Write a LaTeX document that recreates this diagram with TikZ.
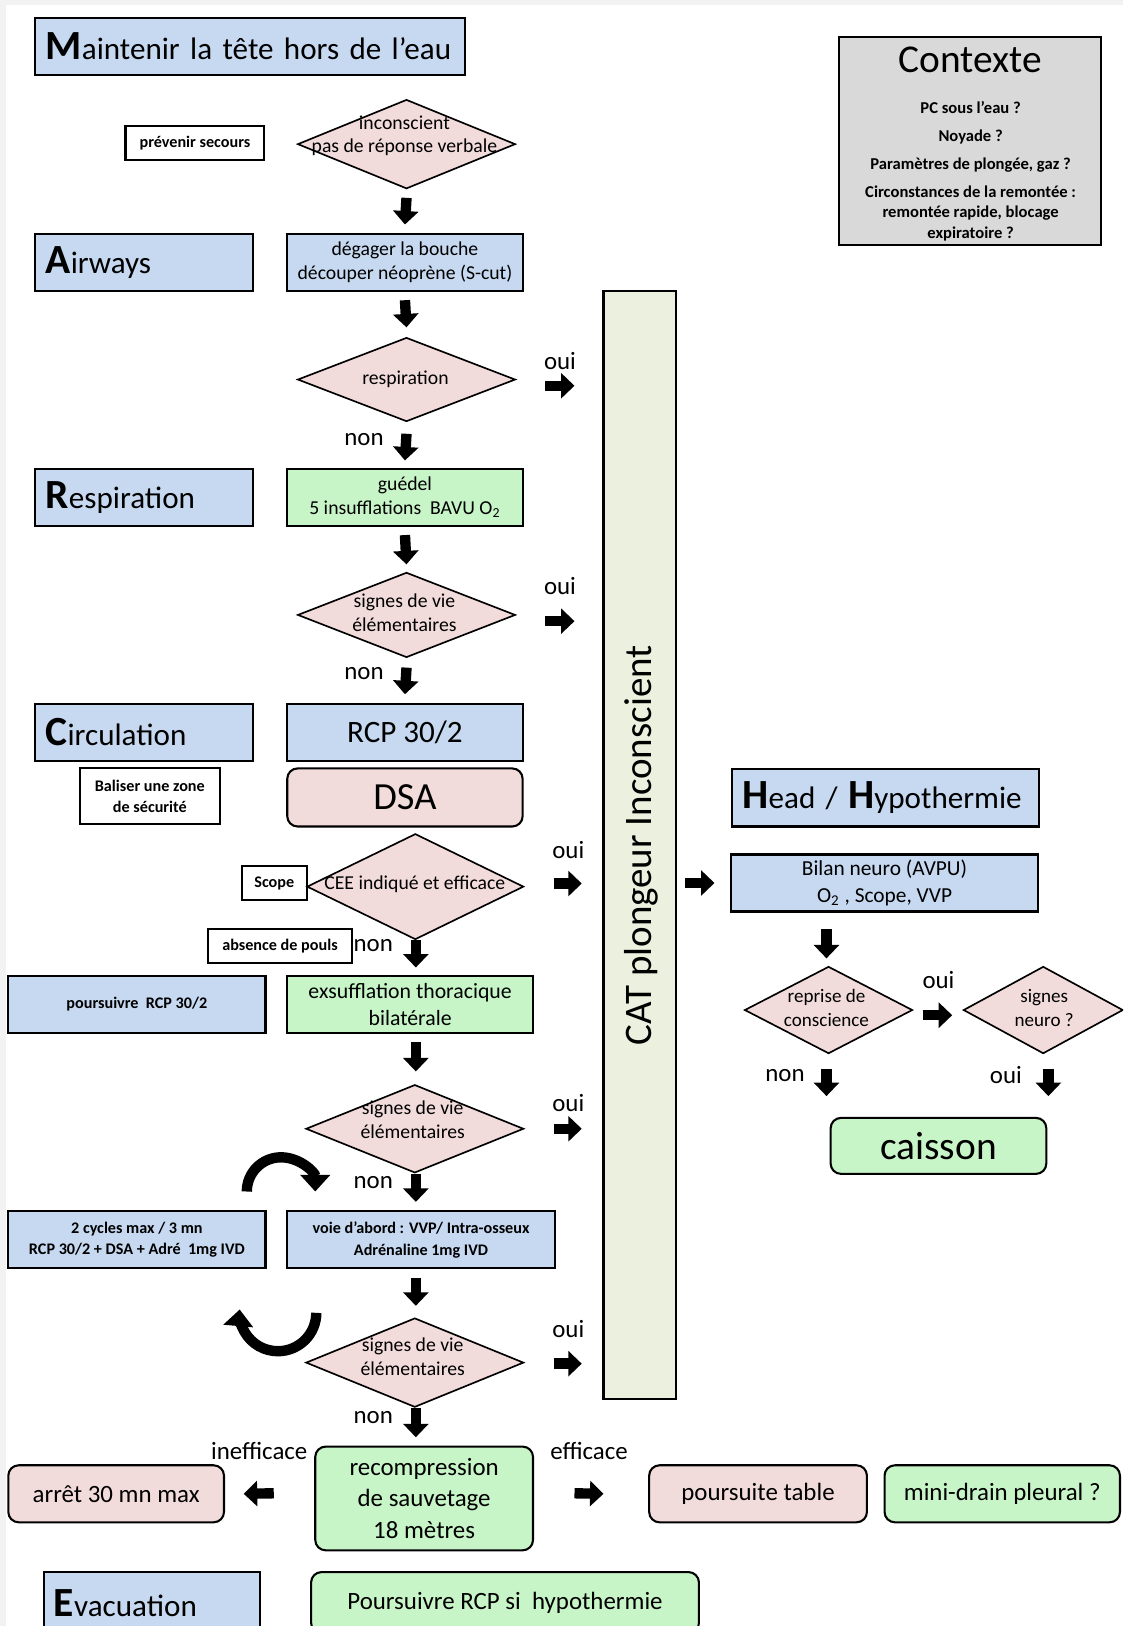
\documentclass[tikz,border=0pt]{standalone}
\usepackage{fontspec}
\setmainfont{Carlito}
\usetikzlibrary{arrows.meta,positioning,shapes.geometric,calc}

\definecolor{bleu}{HTML}{C6D9F1}
\definecolor{rose}{HTML}{F2DCDB}
\definecolor{vert}{HTML}{C8F5C8}
\definecolor{catvert}{HTML}{EBF1DE}
\definecolor{gris}{HTML}{D9D9D9}

\newcommand\initiale[1]{{\fontsize{20}{20}\selectfont\bfseries #1}}

\begin{document}
\begin{tikzpicture}[
x=0.5pt,y=-0.5pt,
box/.style={draw,line width=1pt,inner sep=2pt,align=center,minimum height=27.5pt},
hdr/.style={box,fill=bleu,anchor=west,align=left,inner xsep=5pt,text width=#1,font=\fontsize{15}{16}\selectfont},
bleubox/.style={box,fill=bleu,font=\fontsize{9.5}{11.5}\selectfont},
vertbox/.style={box,fill=vert,font=\fontsize{9.5}{11.5}\selectfont},
ronde/.style={box,rounded corners=5pt,font=\fontsize{12}{15}\selectfont},
petit/.style={box,fill=white,inner sep=1pt,minimum height=16.5pt,font=\fontsize{7.8}{10}\selectfont\bfseries},
losange/.style={diamond,draw,line width=0.8pt,fill=rose,inner sep=0pt},
ltxt/.style={align=center,inner sep=0pt,font=\fontsize{9.5}{11.5}\selectfont},
lab/.style={inner sep=0pt,font=\fontsize{12}{12}\selectfont},
fleche/.style={-{Triangle[length=6.5pt,width=12pt]},line width=5pt},
boucle/.style={-{Triangle[length=8pt,width=14pt]},line width=5pt}
]
\useasboundingbox (0,0) rectangle (1083,1568);
\clip (0,0) rectangle (1083,1568);
\fill[gray!10] (0,0) rectangle (1083,1568);
\fill[white] (6,5) rectangle (1083,1568);

% en-tetes
\node[hdr=197pt] (tete) at (33,44.5) {\initiale{M}aintenir la tête hors de l’eau};
\node[hdr=95pt] (airways) at (33,253) {\initiale{A}irways};
\node[hdr=95pt] (resphd) at (33,479.5) {\initiale{R}espiration};
\node[hdr=95pt] (circ) at (33,706) {\initiale{C}irculation};
\node[hdr=138pt] (head) at (705,769.5) {\initiale{H}ead / \initiale{H}ypothermie};
\node[hdr=94.5pt,minimum height=29.5pt] (evac) at (41,1545.5) {\initiale{E}vacuation};

% colonne centrale
\node[bleubox,minimum width=113.5pt] (degager) at (390.5,253) {dégager la bouche\\découper néoprène (S-cut)};
\node[vertbox,minimum width=113.5pt] (guedel) at (390.5,479.5) {guédel\\5 insufflations~~BAVU O\textsubscript{2}};
\node[bleubox,minimum width=113.5pt,font=\fontsize{15}{15}\selectfont] (rcp) at (390.5,706) {RCP 30/2};
\node[box,fill=rose,rounded corners=5pt,minimum width=113.5pt,minimum height=28pt,font=\fontsize{18.5}{18.5}\selectfont] (dsa) at (390.5,769) {DSA};
\node[vertbox,minimum width=118.5pt,font=\fontsize{10.5}{13}\selectfont] (exsuff) at (395.5,968.5) {exsufflation thoracique\\bilatérale};
\node[bleubox,minimum width=129pt,font=\fontsize{7.8}{10.5}\selectfont\bfseries] (voie) at (406,1195.5) {voie d’abord : VVP/ Intra-osseux\\Adrénaline 1mg IVD};
\node[ronde,fill=vert,minimum width=105pt,minimum height=50pt] (recomp) at (409,1445) {recompression\\de sauvetage\\18 mètres};
\node[ronde,fill=vert,minimum width=187pt,minimum height=29.5pt] (hypo) at (487,1545.5) {Poursuivre RCP si~~hypothermie};

% gauche
\node[petit,minimum width=67pt] (prevenir) at (188,138) {prévenir secours};
\node[petit,minimum width=67.5pt,minimum height=27pt] (baliser) at (144.5,768) {Baliser une zone\\de sécurité};
\node[petit,minimum width=31.5pt] (scope) at (264.5,851.5) {Scope};
\node[petit,minimum width=69pt] (pouls) at (270,912.5) {absence de pouls};
\node[bleubox,minimum width=124pt,font=\fontsize{7.8}{10}\selectfont\bfseries] (poursuivre) at (132,968.5) {poursuivre~~RCP 30/2};
\node[bleubox,minimum width=124pt,font=\fontsize{7.8}{10.5}\selectfont\bfseries] (cycles) at (132,1195.5) {2 cycles max / 3 mn\\RCP 30/2 + DSA + Adré~~1mg IVD};
\node[ronde,fill=rose,minimum width=104pt] (arret) at (112,1440.5) {arrêt 30 mn max};
\node[ronde,fill=rose,minimum width=105pt] (table) at (731,1440.5) {poursuite table};
\node[ronde,fill=vert,minimum width=113.5pt] (drain) at (966.5,1440.5) {mini-drain pleural ?};

% droite
\node[box,fill=gris,minimum width=126.5pt,minimum height=100pt] (contexte) at (935.5,136) {};
\node[inner sep=0pt,font=\fontsize{19}{19}\selectfont] (ctxtitre) at (936,58) {Contexte};
\node[anchor=north,inner sep=0pt,align=center,font=\fontsize{8}{10}\selectfont\bfseries] (ctxliste) at (936,97) {PC sous l’eau ?\\[3.5pt]Noyade ?\\[3.5pt]Paramètres de plongée, gaz ?\\[3.5pt]Circonstances de la remontée :\\remontée rapide, blocage\\expiratoire ?};
\node[box,fill=catvert,minimum width=35pt,minimum height=534pt] (cat) at (617,815) {};
\node[rotate=90,inner sep=0pt,font=\fontsize{18.8}{19}\selectfont] (cattxt) at (618,815) {CAT plongeur Inconscient};
\node[bleubox,minimum width=148pt,font=\fontsize{10.3}{13}\selectfont] (bilan) at (853,851.5) {Bilan neuro (AVPU)\\O\textsubscript{2} , Scope, VVP};
\node[ronde,fill=vert,minimum width=104pt,minimum height=27pt,font=\fontsize{19}{19}\selectfont] (caisson) at (905,1105) {caisson};

% losanges
\node[losange,minimum width=105pt,minimum height=43pt] (incons) at (392,139) {};
\node[losange,minimum width=105pt,minimum height=40.5pt] (respi) at (392,366) {};
\node[losange,minimum width=105pt,minimum height=41pt] (signes1) at (392,593) {};
\node[losange,minimum width=104.5pt,minimum height=51pt] (cee) at (400.5,855) {};
\node[losange,minimum width=105pt,minimum height=42.5pt] (signes2) at (400,1088.5) {};
\node[losange,minimum width=105pt,minimum height=43pt] (signes3) at (400,1314) {};
\node[losange,minimum width=81pt,minimum height=42pt] (reprise) at (799,974) {};
\node[losange,minimum width=77pt,minimum height=42pt] (neuro) at (1006,974) {};

\node[ltxt] (inconstxt) at (390,131) {inconscient\\pas de réponse verbale};
\node[ltxt] (respitxt) at (391,366) {respiration};
\node[ltxt] (signes1txt) at (390,591) {signes de vie\\élémentaires};
\node[ltxt] (ceetxt) at (400,853) {CEE indiqué et efficace};
\node[ltxt] (signes2txt) at (398,1080) {signes de vie\\élémentaires};
\node[ltxt] (signes3txt) at (398,1308) {signes de vie\\élémentaires};
\node[ltxt,font=\fontsize{9.2}{11.5}\selectfont] (reprisetxt) at (797,972) {reprise de\\conscience};
\node[ltxt,font=\fontsize{9.2}{11.5}\selectfont] (neurotxt) at (1007,972) {signes\\neuro ?};

% oui / non
\node[lab] (oui1) at (540,348) {oui};
\node[lab] (oui2) at (540,565) {oui};
\node[lab] (oui3) at (548,820) {oui};
\node[lab] (oui4) at (548,1064) {oui};
\node[lab] (oui5) at (548,1282) {oui};
\node[lab] (oui6) at (905,945) {oui};
\node[lab] (oui7) at (970,1037) {oui};
\node[lab] (non1) at (351,424) {non};
\node[lab] (non2) at (351,650) {non};
\node[lab] (non3) at (360,912) {non};
\node[lab] (non4) at (360,1140) {non};
\node[lab] (non5) at (360,1367) {non};
\node[lab] (non6) at (757,1037) {non};
\node[lab] (ineff) at (250,1399) {inefficace};
\node[lab] (eff) at (568,1399) {efficace};

% fleches verticales
\draw[fleche] ($(incons.south)+(0,8)$) -- ($(degager.north)+(0,-8)$);
\draw[fleche] ($(degager.south)+(0,8)$) -- ($(respi.north)+(0,-9)$);
\draw[fleche] ($(respi.south)+(0,11)$) -- ($(guedel.north)+(0,-7)$);
\draw[fleche] ($(guedel.south)+(0,8)$) -- ($(signes1.north)+(0,-7)$);
\draw[fleche] ($(signes1.south)+(0,9)$) -- ($(rcp.north)+(0,-8)$);
\draw[fleche] ($(cee.south)+(0.5,0)$) -- ($(exsuff.north)+(5.5,-7)$);
\draw[fleche] ($(exsuff.south)+(5.5,8)$) -- ($(signes2.north)+(1,-12)$);
\draw[fleche] ($(signes2.south)+(1,0)$) -- ($(voie.north)+(-5,-8)$);
\draw[fleche] ($(voie.south)+(-5,8)$) -- ($(signes3.north)+(1,-11)$);
\draw[fleche] ($(signes3.south)+(1,0)$) -- ($(recomp.north)+(-8,-8)$);
\draw[fleche] ($(bilan.south)+(-56,16)$) -- ($(reprise.north)+(-2,-7)$);
\draw[fleche] ($(reprise.south)+(-2,14)$) -- ($(reprise.south |- caisson.north)+(-2,-20)$);
\draw[fleche] ($(neuro.south)+(5,14)$) -- ($(neuro.south |- caisson.north)+(5,-20)$);

% fleches horizontales
\draw[fleche] ($(respi.east)+(28,6)$) -- ($(respi.east -| cat.west)+(-27,6)$);
\draw[fleche] ($(signes1.east)+(28,6)$) -- ($(signes1.east -| cat.west)+(-27,6)$);
\draw[fleche] ($(cee.east)+(28,-3)$) -- ($(cee.east -| cat.west)+(-20,-3)$);
\draw[fleche] ($(signes2.east)+(28,0)$) -- ($(signes2.east -| cat.west)+(-20,0)$);
\draw[fleche] ($(signes3.east)+(28,1)$) -- ($(signes3.east -| cat.west)+(-20,1)$);
\draw[fleche] ($(cat.east |- bilan.west)+(8,0)$) -- ($(bilan.west)+(-15,0)$);
\draw[fleche] ($(reprise.east)+(9,5)$) -- ($(neuro.west)+(-10,5)$);
\draw[fleche] ($(recomp.east)+(39,-5)$) -- ($(table.west)+(-43,0)$);
\draw[fleche] ($(recomp.west)+(-39,-5)$) -- ($(arret.east)+(18,0)$);

% boucles
\draw[boucle] ($(cycles.north east)+(-19,-18)$) arc[start angle=180,end angle=360,radius=33];
\draw[boucle] ($(cycles.south east)+(48,42)$) arc[start angle=0,end angle=185,radius=37];
\end{tikzpicture}
\end{document}
